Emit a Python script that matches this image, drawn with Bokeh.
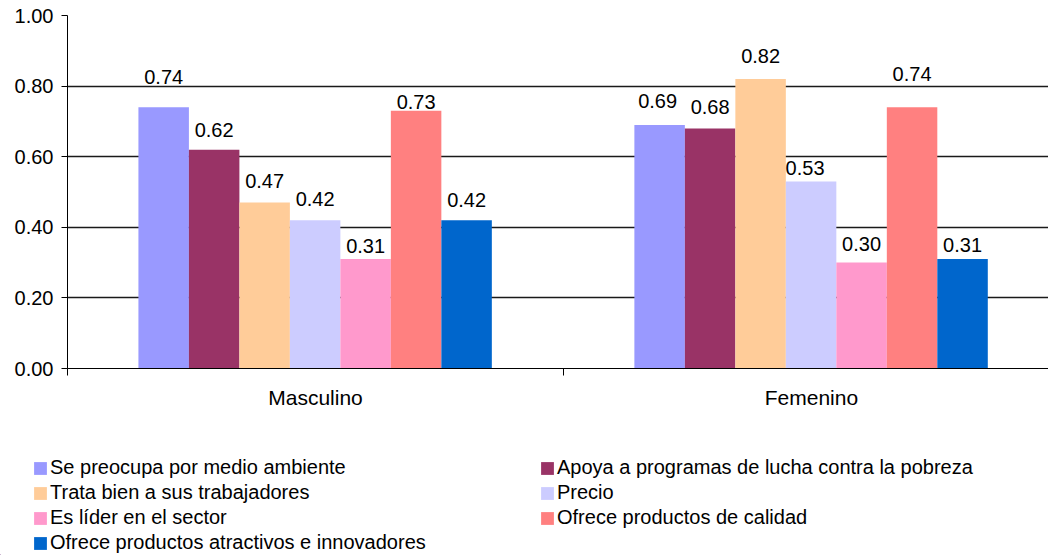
from bokeh.plotting import figure
from bokeh.layouts import column
from bokeh.models import (Range1d, FixedTicker, Legend, LegendItem,
                          ColumnDataSource, NumeralTickFormatter)
from bokeh.core.properties import value
from bokeh.embed import file_html
from bokeh.resources import INLINE

# ---- data -------------------------------------------------------------
groups = ["Masculino", "Femenino"]
attributes = [
    "Se preocupa por medio ambiente",
    "Apoya a programas de lucha contra la pobreza",
    "Trata bien a sus trabajadores",
    "Precio",
    "Es líder en el sector",
    "Ofrece productos de calidad",
    "Ofrece productos atractivos e innovadores",
]
masculino = [0.74, 0.62, 0.47, 0.42, 0.31, 0.73, 0.42]
femenino = [0.69, 0.68, 0.82, 0.53, 0.30, 0.74, 0.31]
y_ticks = [0.0, 0.2, 0.4, 0.6, 0.8, 1.0]

# ---- style ------------------------------------------------------------
colors = ["#9999FF", "#993366", "#FFCC99", "#CCCCFF", "#FF99CC", "#FF8080", "#0066CC"]
FONT = "Liberation Sans"
FSIZE = "20px"
CAT_FSIZE = "21px"
# how far (px) each value label sits above its bar top, per group
label_lift = [
    [30, 19.5, 22, 21, 13.5, 9, 20],
    [24, 21, 23, 13, 19, 33, 14],
]
label_shift = [
    [0, 0, 0, 0, 0, 0, 0],
    [-2, 0, 0, -6, 0, 0, 0],
]

GROUP_START = 0.143   # gap before first bar inside a category
BAR_W = 0.1018        # bar width in category units
X_END = 1.978         # visible part of the category axis

CHART_H = 430
LEGEND_H = 125

p = figure(width=1048, height=CHART_H, x_range=Range1d(0, X_END), y_range=Range1d(0, 1),
           output_backend="svg", toolbar_location=None,
           min_border_left=67, min_border_right=0, min_border_top=15,
           min_border_bottom=CHART_H - 368)
p.frame_align = False
p.outline_line_color = None
p.background_fill_color = "white"
p.border_fill_color = "white"

series = [masculino, femenino]
for i, attr in enumerate(attributes):
    xs = [g + GROUP_START + (i + 0.5) * BAR_W for g in range(len(groups))]
    tops = [s[i] for s in series]
    src = ColumnDataSource(dict(x=xs, top=tops,
                                label=["%.2f" % t for t in tops],
                                dy=[-label_lift[g][i] for g in range(len(groups))],
                                dx=[label_shift[g][i] for g in range(len(groups))]))
    p.vbar(x="x", top="top", width=BAR_W, bottom=0, source=src,
           fill_color=colors[i], line_color=None)
    p.text(x="x", y="top", text="label", x_offset="dx", y_offset="dy", source=src,
           text_align="center", text_baseline="middle",
           text_font=value(FONT), text_font_size=FSIZE, text_color="black")

# y axis
p.yaxis.ticker = FixedTicker(ticks=y_ticks)
p.yaxis.formatter = NumeralTickFormatter(format="0.00")
p.yaxis.major_tick_out = 6
p.yaxis.major_tick_in = 0
p.yaxis.minor_tick_line_color = None
p.yaxis.major_label_standoff = 8
p.yaxis.major_label_text_font = FONT
p.yaxis.major_label_text_font_size = FSIZE
p.yaxis.major_label_text_color = "black"
p.yaxis.axis_line_color = "black"
p.yaxis.major_tick_line_color = "black"

# x axis: category names centred, tick marks on category boundaries
p.xaxis.ticker = FixedTicker(ticks=[g + 0.5 for g in range(len(groups))],
                             minor_ticks=[0, 1, 2])
p.xaxis.major_label_overrides = {g + 0.5: name for g, name in enumerate(groups)}
p.xaxis.major_tick_line_color = None
p.xaxis.major_tick_out = 0
p.xaxis.major_tick_in = 0
p.xaxis.minor_tick_line_color = "black"
p.xaxis.minor_tick_in = 0
p.xaxis.minor_tick_out = 7
p.xaxis.major_label_standoff = 10
p.xaxis.major_label_text_font = FONT
p.xaxis.major_label_text_font_size = CAT_FSIZE
p.xaxis.major_label_text_color = "black"
p.xaxis.axis_line_color = "black"

p.xgrid.visible = False
p.ygrid.ticker = FixedTicker(ticks=y_ticks)
p.ygrid.grid_line_color = "#1a1a1a"
p.ygrid.grid_line_width = 1.5

# legend strip underneath the chart, two columns filled row by row
leg = figure(width=1048, height=LEGEND_H, x_range=Range1d(0, 1048), y_range=Range1d(0, LEGEND_H),
             output_backend="svg", toolbar_location=None,
             x_axis_type=None, y_axis_type=None,
             min_border_left=0, min_border_right=0, min_border_top=0, min_border_bottom=0)
leg.frame_align = False
leg.outline_line_color = None
leg.background_fill_color = "white"
leg.border_fill_color = "white"
leg.grid.visible = False
# swatch renderers sit outside the visible range; only their legend glyphs show
swatches = [leg.vbar(x=[-500], top=[1], width=1, fill_color=c, line_color=None) for c in colors]

legend = Legend(
    items=[LegendItem(label=a, renderers=[r]) for a, r in zip(attributes, swatches)],
    location=(32, 1), orientation="horizontal", ncols=2,
    label_text_font=FONT, label_text_font_size=FSIZE, label_text_color="black",
    glyph_width=16, glyph_height=16, label_height=21, label_standoff=2,
    label_width=487, spacing=2, padding=0, margin=0,
    border_line_color=None, background_fill_alpha=0,
)
leg.add_layout(legend)

open("out.html", "w").write(file_html(column(p, leg, spacing=0), INLINE))
